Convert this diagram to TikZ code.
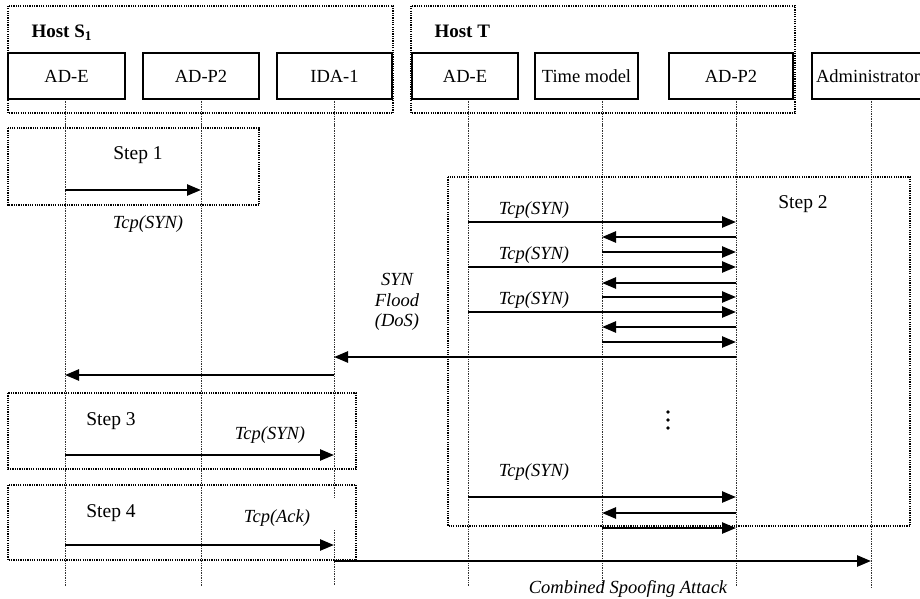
\documentclass[tikz,border=0pt]{standalone}
\usepackage{fontspec}
\setmainfont{Liberation Serif}
\usetikzlibrary{arrows.meta}
\begin{document}
\begin{tikzpicture}[x=1pt,y=-1pt,
  font=\fontsize{18.5}{22}\selectfont,
  hdr/.style={draw, fill=white, line width=2.2pt, minimum height=46pt, inner sep=0pt},
  frame/.style={line width=1.4pt, dash pattern=on 1.2pt off 1.1pt},
  life/.style={line width=0.9pt, gray!40!black, dash pattern=on 1pt off 0.7pt},
  msg/.style={line width=2.5pt, -{Triangle[length=14pt,width=11pt]}},
  lbl/.style={font=\fontsize{18.5}{22}\selectfont\itshape, anchor=base},
  steplbl/.style={font=\fontsize{19.5}{22}\selectfont, anchor=base},
]
\useasboundingbox (0,0) rectangle (920,599);

% host frames
\draw[frame] (8,6) rectangle (393,113);
\draw[frame] (411,6) rectangle (795,113);

% lifeline tops / bottoms
\coordinate (Ls1e) at (65,99);   \coordinate (Bs1e) at (65,586);
\coordinate (Ls1p) at (201,99);  \coordinate (Bs1p) at (201,586);
\coordinate (Lida) at (334,99);  \coordinate (Bida) at (334,586);
\coordinate (Gida1) at (334,498); \coordinate (Gida2) at (334,530);
\coordinate (Lte) at (468,99);   \coordinate (Bte) at (468,586);
\coordinate (Ltm) at (602,99);   \coordinate (Btm) at (602,586);
\coordinate (Ltp) at (736,99);   \coordinate (Btp) at (736,586);
\coordinate (Ladm) at (871,99);  \coordinate (Badm) at (871,588);

\draw[life] (Ls1e) -- (Bs1e);
\draw[life] (Ls1p) -- (Bs1p);
\draw[life] (Lida) -- (Gida1);
\draw[life] (Gida2) -- (Bida);
\draw[life] (Lte) -- (Bte);
\draw[life] (Ltm) -- (Btm);
\draw[life] (Ltp) -- (Btp);
\draw[life] (Ladm) -- (Badm);

% header boxes
\node[hdr, minimum width=117pt] (s1e) at (66.5,76) {AD-E};
\node[hdr, minimum width=116pt] (s1p) at (201,76) {AD-P2};
\node[hdr, minimum width=115pt] (ida) at (334.5,76) {IDA-1};
\node[hdr, minimum width=106pt] (te) at (465,76) {AD-E};
\node[hdr, minimum width=103pt] (tm) at (586.5,76) {Time model};
\node[hdr, minimum width=124pt] (tp) at (731,76) {AD-P2};
\node[hdr, minimum width=112pt] (adm) at (868,76) {Administrator};

\node[anchor=base west, font=\fontsize{19}{22}\selectfont\bfseries] (hs1) at (28,38) {Host S\textsubscript{1}};
\node[anchor=base west, font=\fontsize{19}{22}\selectfont\bfseries] (ht) at (431,38) {Host T};

% step frames
\draw[frame] (8,128) rectangle (259,205);
\draw[frame] (448,177) rectangle (910,526);
\draw[frame] (8,393) rectangle (356,469);
\draw[frame] (8,485) rectangle (356,560);

% step labels
\node[steplbl] (st1) at (138,159) {Step 1};
\node[steplbl] (st2) at (803,208) {Step 2};
\node[steplbl] (st3) at (111,425) {Step 3};
\node[steplbl] (st4) at (111,517) {Step 4};

% Step 1
\draw[msg] (Ls1e |- 0,190) -- (Ls1p |- 0,190);
\node[lbl] (l1) at (148,228) {Tcp(SYN)};

% Step 2
\draw[msg] (Lte |- 0,222) -- (Ltp |- 0,222);
\draw[msg] (Ltp |- 0,237) -- (Ltm |- 0,237);
\draw[msg] (Ltm |- 0,252) -- (Ltp |- 0,252);
\draw[msg] (Lte |- 0,267) -- (Ltp |- 0,267);
\draw[msg] (Ltp |- 0,283) -- (Ltm |- 0,283);
\draw[msg] (Ltm |- 0,297) -- (Ltp |- 0,297);
\draw[msg] (Lte |- 0,312) -- (Ltp |- 0,312);
\draw[msg] (Ltp |- 0,327) -- (Ltm |- 0,327);
\draw[msg] (Ltm |- 0,342) -- (Ltp |- 0,342);
\draw[msg] (Ltp |- 0,357) -- (Lida |- 0,357);
\draw[msg] (Lida |- 0,375) -- (Ls1e |- 0,375);
\node[lbl] (l2a) at (534,214) {Tcp(SYN)};
\node[lbl] (l2b) at (534,259) {Tcp(SYN)};
\node[lbl] (l2c) at (534,304) {Tcp(SYN)};
\node[lbl] (fl1) at (397,285) {SYN};
\node[lbl] (fl2) at (397,306) {Flood};
\node[lbl] (fl3) at (397,326) {(DoS)};

\fill (668,412) circle (1.8pt);
\fill (668,420) circle (1.8pt);
\fill (668,428) circle (1.8pt);

\draw[msg] (Lte |- 0,497) -- (Ltp |- 0,497);
\draw[msg] (Ltp |- 0,513) -- (Ltm |- 0,513);
\draw[msg] (Ltm |- 0,528) -- (Ltp |- 0,528);
\node[lbl] (l2d) at (534,476) {Tcp(SYN)};

% Step 3
\draw[msg] (Ls1e |- 0,455) -- (Lida |- 0,455);
\node[lbl] (l3) at (270,439) {Tcp(SYN)};

% Step 4
\draw[msg] (Ls1e |- 0,545) -- (Lida |- 0,545);
\node[lbl] (l4) at (277,522) {Tcp(Ack)};

% Combined
\draw[msg] (Lida |- 0,561) -- (Ladm |- 0,561);
\node[lbl] (lc) at (628,593) {Combined Spoofing Attack};
\end{tikzpicture}
\end{document}
